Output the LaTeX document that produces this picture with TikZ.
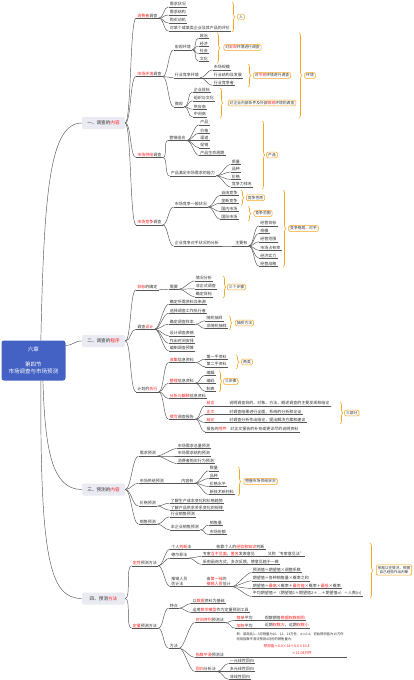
\documentclass[tikz,border=0pt]{standalone}
\usepackage{fontspec}
\setmainfont{Noto Sans CJK SC}
\usetikzlibrary{decorations.pathreplacing}
\definecolor{lnc}{HTML}{555555}
\definecolor{org}{HTML}{F5A623}
\definecolor{mbg}{HTML}{E9EAF2}
\definecolor{cbg}{HTML}{4462C4}
\definecolor{hr}{HTML}{FF1A1A}
\definecolor{txt}{HTML}{333333}
\newcommand\rd[1]{\textcolor{hr}{#1}}
\newcommand\lf[3]{\node[lbl] (#1) at (#2) {#3}; \draw[ul] (#1.south west) -- (#1.south east);}
\newcommand\cn[2]{\draw[conn] (#1.south east) .. controls +(5,0) and +(-5,0) .. (#2.south west);}
\newcommand\mc[2]{\draw[conn] (#1.east) .. controls +(6,0) and +(-6,0) .. (#2.south west);}
\begin{document}
\begin{tikzpicture}[x=1pt,y=-1pt,
  lbl/.style={font=\fontsize{4}{4.8}\selectfont, anchor=south west, inner xsep=1.2pt, inner ysep=0.6pt, text=txt},
  lbl2/.style={lbl, align=left},
  blob/.style={font=\fontsize{3.3}{4}\selectfont, anchor=south west, inner sep=0.3pt, text=txt},
  ul/.style={draw=lnc, line width=0.45pt},
  conn/.style={draw=lnc, line width=0.45pt},
  mnode/.style={fill=mbg, rounded corners=2pt, minimum width=43pt, minimum height=12pt, inner sep=0pt, font=\fontsize{4.6}{5}\selectfont, text=txt},
  cnode/.style={fill=cbg, rounded corners=2.5pt, minimum width=64pt, minimum height=40pt, inner sep=0pt, text=white, align=center, font=\fontsize{5.5}{7.5}\selectfont},
  sbox/.style={draw=org, line width=0.6pt, rounded corners=1.2pt, fill=white, font=\fontsize{3.8}{4.6}\selectfont, inner xsep=1.5pt, inner ysep=1.1pt, text=txt},
  brc/.style={draw=org, line width=0.6pt, decorate, decoration={brace, amplitude=3pt}},
]
\fill[white] (0,0) rectangle (413,680);
\useasboundingbox (0,0) rectangle (413,680);

% ---------- central and main nodes
\node[cnode] (ctr) at (33.5,360.5) {六章\\[7.5pt]第四节\\市场调查与市场预测};
\node[mnode] (m1) at (103.5,123) {一、调查的\rd{内容}};
\node[mnode] (m2) at (103.5,341) {二、调查的\rd{程序}};
\node[mnode] (m3) at (103.5,489.5) {三、预测的\rd{内容}};
\node[mnode] (m4) at (103.5,598.5) {四、预测\rd{方法}};
\draw[conn] (ctr.70) .. controls (44,190) and (50,123) .. (m1.west);
\draw[conn] (ctr.25) .. controls (74,345) and (74,341) .. (m2.west);
\draw[conn] (ctr.-65) .. controls (45,450) and (52,489.5) .. (m3.west);
\draw[conn] (ctr.-70) .. controls (40,560) and (50,598.5) .. (m4.west);

% ---------- section 1
\lf{a1}{136,18.2}{\rd{消费者}调查}
\lf{aa1}{168.5,6.8}{需求状况}
\lf{aa2}{168.5,15}{需求结构}
\lf{aa3}{168.5,23}{购买动机}
\lf{aa4}{168.5,31}{对某个或某类企业及其产品的评价}

\lf{a2}{136,76.5}{\rd{市场环境}调查}
\lf{ab1}{173.5,49.8}{宏观环境}
\lf{ab11}{198.5,38.2}{政治}
\lf{ab12}{198.5,46.2}{经济}
\lf{ab13}{198.5,53.5}{社会}
\lf{ab14}{198.5,61.2}{文化}
\lf{ab2}{173.5,77.8}{行业竞争环境}
\lf{ab21}{212.5,69.8}{市场规模}
\lf{ab22}{212.5,77.8}{行业结构及发展}
\lf{ab23}{212.5,85.5}{行业竞争者}
\lf{ab3}{173.5,106.8}{微观}
\lf{ab31}{192.5,92.2}{企业目标}
\lf{ab32}{192.5,100.8}{组织与文化}
\lf{ab33}{192.5,109.2}{供应商}
\lf{ab34}{192.5,117}{中间商}

\lf{a3}{136,157.5}{\rd{市场供给}调查}
\lf{ac1}{168,140.5}{营销组合}
\lf{ac11}{199,124.8}{产品}
\lf{ac12}{199,133.2}{价格}
\lf{ac13}{199,140.5}{渠道}
\lf{ac14}{199,147.8}{促销}
\lf{ac15}{199,155.5}{产品生命周期}
\lf{ac2}{169.5,175.8}{产品满足市场需求的能力}
\lf{ac21}{230.5,164.5}{质量}
\lf{ac22}{230.5,172}{品种}
\lf{ac23}{230.5,179.5}{价格}
\lf{ac24}{230.5,187}{竞争力排名}

\lf{a4}{136,224.8}{\rd{市场竞争}调查}
\lf{ad1}{173.5,207}{市场竞争一般状况}
\lf{ad11}{220,195.2}{自由竞争}
\lf{ad12}{220,203.2}{垄断竞争}
\lf{ad13}{220,211.5}{国内市场}
\lf{ad14}{220,219.2}{国际市场}
\lf{ad2}{173.5,246}{企业竞争对手状况的分析}
\lf{ad2a}{234,246}{主要有}
\lf{ad21}{259,225.8}{经营目标}
\lf{ad22}{259,233.5}{规模}
\lf{ad23}{259,241.8}{经营范围}
\lf{ad24}{259,250.2}{市场占有率}
\lf{ad25}{259,258.2}{经济实力}
\lf{ad26}{259,266.2}{经营战略}

\draw[brc] (232,2) -- (232,32);
\node[sbox] (bx1) at (241,17) {人};
\draw[brc] (217,33) -- (217,63);
\node[sbox] (bx2) at (242.5,47.5) {对\rd{宏观}环境进行调查};
\draw[brc] (248,64) -- (248,87);
\node[sbox] (bx3) at (272,75.5) {对\rd{中观}环境进行调查};
\draw[brc] (220,88) -- (220,118);
\node[sbox] (bx4) at (262,103) {对企业内部条件及外部\rd{微观}环境的调查};
\draw[brc] (299,33) -- (299,118);
\node[sbox] (bx5) at (310,75.5) {环境};
\draw[brc] (262,121) -- (262,189);
\node[sbox] (bx6) at (272,155) {产品};
\draw[brc] (241,190) -- (241,205.5);
\node[sbox] (bx7) at (255.5,197.8) {竞争性质};
\draw[brc] (248,206) -- (248,221);
\node[sbox] (bx8) at (263,213.5) {竞争范围};
\draw[brc] (283,190) -- (283,267);
\node[sbox] (bx9) at (303.5,228.5) {竞争格局、对手};

\foreach \p/\q in {a1/aa1,a1/aa2,a1/aa3,a1/aa4,a2/ab1,a2/ab2,a2/ab3,ab1/ab11,ab1/ab12,ab1/ab13,ab1/ab14,ab2/ab21,ab2/ab22,ab2/ab23,ab3/ab31,ab3/ab32,ab3/ab33,ab3/ab34,a3/ac1,a3/ac2,ac1/ac11,ac1/ac12,ac1/ac13,ac1/ac14,ac1/ac15,ac2/ac21,ac2/ac22,ac2/ac23,ac2/ac24,a4/ad1,a4/ad2,ad1/ad11,ad1/ad12,ad1/ad13,ad1/ad14,ad2/ad2a,ad2a/ad21,ad2a/ad22,ad2a/ad23,ad2a/ad24,ad2a/ad25,ad2a/ad26} {\cn{\p}{\q}}
\foreach \q in {a1,a2,a3,a4} {\mc{m1}{\q}}

% ---------- section 2
\lf{e1}{136,289.8}{\rd{目标}的确定}
\lf{e1a}{168.5,289.2}{需要}
\lf{e1b1}{194.5,280.8}{情况分析}
\lf{e1b2}{194.5,288.8}{非正式调查}
\lf{e1b3}{194.5,296.8}{确定目标}
\lf{e2}{136,329.2}{调查\rd{设计}}
\lf{e21}{168.5,304.2}{确定所需资料及来源}
\lf{e22}{168.5,313.2}{选择调查工作执行者}
\lf{e23}{168.5,324.2}{确定调查样本}
\lf{e231}{205.2,320.8}{随机抽样}
\lf{e232}{205.2,328.5}{非随机抽样}
\lf{e24}{168.5,335.8}{设计调查表格}
\lf{e25}{168.5,343.2}{作出时间安排}
\lf{e26}{168.5,350.8}{编制调查预算}
\lf{e3}{136,391.8}{计划的\rd{执行}}
\lf{f1}{168.5,362.5}{\rd{收集}信息资料}
\lf{f11}{205.2,359.2}{第一手资料}
\lf{f12}{205.2,366.8}{第二手资料}
\lf{f2}{168.5,383.2}{\rd{整理}信息资料}
\lf{f21}{205.2,375.2}{编辑}
\lf{f22}{205.2,383.2}{编码}
\lf{f23}{205.2,391.2}{制表}
\lf{f3}{168.5,398.5}{\rd{分析与解释}信息资料}
\lf{f4}{168.5,419.2}{\rd{撰写}调查报告}
\lf{g1}{205.2,405.8}{\rd{前言}}
\lf{g1t}{228,405.8}{说明调查目的、对象、方法，概述调查的主要发现和结论}
\lf{g2}{205.2,414.5}{\rd{正文}}
\lf{g2t}{228,414.5}{对调查结果进行全面、系统的分析和论证}
\lf{g3}{205.2,422.5}{\rd{结论}}
\lf{g3t}{228,422.5}{对调查分析作出结论，提出解决方案和建议}
\lf{g4}{205.2,431.8}{报告的\rd{附件}}
\lf{g4t}{229,431.8}{对正文报告的补充或更详尽的说明资料}

\draw[brc] (223,276) -- (223,298);
\node[sbox] (bx10) at (236.5,287) {三个步骤};
\draw[brc] (229,316) -- (229,330);
\node[sbox] (bx11) at (244.5,323) {抽样方法};
\draw[brc] (236,355) -- (236,369);
\node[sbox] (bx12) at (247,362) {两类};
\draw[brc] (219,371) -- (219,392);
\node[sbox] (bx13) at (230.8,381.5) {三步骤};
\draw[brc] (340,402) -- (340,424);
\node[sbox] (bx14) at (351.8,413) {三部分};

\foreach \p/\q in {e1/e1a,e1a/e1b1,e1a/e1b2,e1a/e1b3,e2/e21,e2/e22,e2/e23,e2/e24,e2/e25,e2/e26,e23/e231,e23/e232,e3/f1,e3/f2,e3/f3,e3/f4,f1/f11,f1/f12,f2/f21,f2/f22,f2/f23,f4/g1,f4/g2,f4/g3,f4/g4,g1/g1t,g2/g2t,g3/g3t,g4/g4t} {\cn{\p}{\q}}
\foreach \q in {e1,e2,e3} {\mc{m2}{\q}}

% ---------- section 3
\lf{h1}{138.5,456}{需求预测}
\lf{h11}{176.5,448.5}{市场需求总量预测}
\lf{h12}{176.5,456}{市场需求结构预测}
\lf{h13}{176.5,463.5}{消费者购买行为预测}
\lf{h2}{138.5,483.2}{市场供给预测}
\lf{h2a}{180,483.2}{内容有}
\lf{h21}{208.5,470.8}{数量}
\lf{h22}{208.5,478.5}{品种}
\lf{h23}{208.5,486.5}{价格水平}
\lf{h24}{208.5,494.5}{新技术新材料}
\lf{h3}{138.5,506}{价格预测}
\lf{h31}{169.5,503.2}{了解生产成本变化和价格趋势}
\lf{h32}{169.5,510.2}{了解产品供求关系变化的规律}
\lf{h4}{138.5,524.2}{销售预测}
\lf{h41}{169.5,516.8}{行业销售预测}
\lf{h42}{169.5,529.8}{本企业销售预测}
\lf{h421}{208.5,525.2}{销售量}
\lf{h422}{208.5,534.5}{市场份额}

\draw[brc] (238,467) -- (238,496);
\node[sbox] (bx15) at (260.5,481.5) {把握市场供给状况};

\foreach \p/\q in {h1/h11,h1/h12,h1/h13,h2/h2a,h2a/h21,h2a/h22,h2a/h23,h2a/h24,h3/h31,h3/h32,h4/h41,h4/h42,h42/h421,h42/h422} {\cn{\p}{\q}}
\foreach \q in {h1,h2,h3,h4} {\mc{m3}{\q}}

% ---------- section 4
\lf{i1}{131.5,565.8}{\rd{定性}预测方法}
\lf{j1}{170,549.2}{个人\rd{判断}法}
\lf{j1a}{215,549.2}{依靠个人的\rd{经验和知识}判断}
\lf{j2}{170,558}{德尔菲法}
\lf{j2a}{201.5,556.5}{专家\rd{互不见面}，\rd{匿名}发表意见}
\lf{j2a1}{266.5,556.5}{又称“专家意见法”}
\lf{j2b}{201.5,564.5}{采用函询方式，多次反馈，使意见趋于一致}
\node[lbl2] (j3) at (170,586.5) {推销人员\\估计法};
\draw[ul] (j3.south west) -- (j3.south east);
\node[lbl2] (j3a) at (205.2,586.5) {由\rd{第一线}的\\\rd{推销人员}估计};
\draw[ul] (j3a.south west) -- (j3a.south east);
\lf{k1}{251.5,572.5}{预测值＝期望值×调整系数}
\lf{k2}{251.5,580.8}{期望值＝各种销售量×概率之和}
\lf{k3}{251.5,588.5}{期望值＝\rd{最高}×概率＋\rd{最可能}×概率＋\rd{最低}×概率}
\lf{k4}{251.5,596.5}{平均期望值＝（期望值1＋期望值2＋…＋期望值n）÷人数(n)}

\draw[brc] (370,543) -- (370,598);
\node[sbox, align=center, font=\fontsize{3.6}{4.6}\selectfont] (bx16) at (394,570) {依据以往情况，根据\\自己经验作出判断};

\lf{i2}{131.5,628.2}{\rd{定量}预测方法}
\lf{l1}{168.5,608.2}{特点}
\lf{l11}{191.2,603.5}{以\rd{数据}资料为基础}
\lf{l12}{191.2,612.5}{运用\rd{数学模型}作为定量预测工具}
\lf{l2}{168.5,648.2}{方法}
\lf{n1}{194.5,622.5}{\rd{时间序列}预测法}
\lf{o1}{235.2,620.2}{\rd{简单}平均}
\lf{o1t}{263.5,620.2}{观察期各\rd{数据权数相同}}
\lf{o2}{235.2,628.2}{\rd{加权}平均}
\lf{o2t}{263.5,628.2}{近期\rd{权数大}，远期\rd{权数小}}
\node[blob] (bl1) at (236,636) {例：某商品1—3月销量为10、12、14万件，α＝0.4，初始预测值为10万件};
\node[blob] (bl2) at (236,641.5) {则用指数平滑法预测4月份的销售量为：};
\node[blob, text=hr, font=\fontsize{3.6}{4}\selectfont] (bl3) at (263,648.5) {预测值＝0.4×14＋0.6×10.8};
\node[blob, text=hr, font=\fontsize{3.6}{4}\selectfont] (bl4) at (291.5,655) {＝12.08万件};
\node[lbl, text width=150pt, align=left] (n2) at (194.5,657.5) {\rd{指数平滑}预测法};
\draw[ul] (n2.south west) -- (n2.south east);
\lf{n3}{194.5,671.5}{\rd{回归}分析法}
\lf{n31}{228.5,663.5}{一元线性回归}
\lf{n32}{228.5,671.5}{多元线性回归}
\lf{n33}{228.5,679.3}{非线性回归}

\foreach \p/\q in {i1/j1,i1/j2,i1/j3,j1/j1a,j2/j2a,j2/j2b,j2a/j2a1,j3/j3a,j3a/k1,j3a/k2,j3a/k3,j3a/k4,i2/l1,i2/l2,l1/l11,l1/l12,l2/n1,l2/n2,l2/n3,n1/o1,n1/o2,o1/o1t,o2/o2t,n3/n31,n3/n32,n3/n33} {\cn{\p}{\q}}
\foreach \q in {i1,i2} {\mc{m4}{\q}}
\end{tikzpicture}
\end{document}
